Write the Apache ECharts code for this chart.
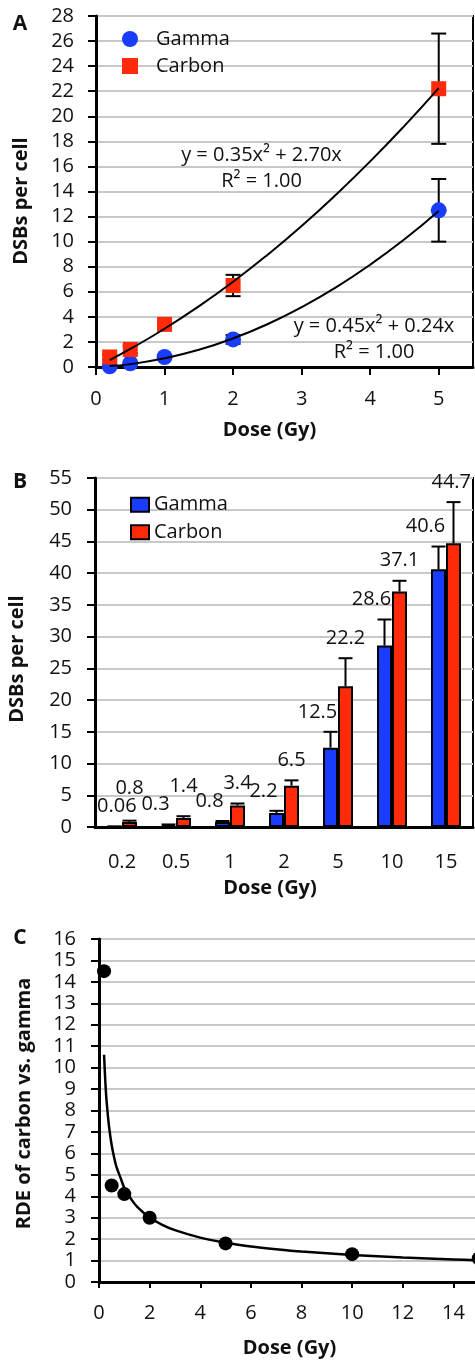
<!DOCTYPE html>
<html><head><meta charset="utf-8">
<script src="https://cdn.jsdelivr.net/npm/echarts@6/dist/echarts.min.js"></script>
<style>html,body{margin:0;padding:0;background:#fff}#c{width:475px;height:1361px}</style>
</head><body><div id="c"></div>
<script>
// ---------- data ----------
const doses = [0.2, 0.5, 1, 2, 5, 10, 15];
const doseLabels = ['0.2', '0.5', '1', '2', '5', '10', '15'];
const gammaMean = [0.06, 0.3, 0.8, 2.2, 12.5, 28.6, 40.6];
const carbonMean = [0.8, 1.4, 3.4, 6.5, 22.2, 37.1, 44.7];
const gammaErr = [0.03, 0.1, 0.15, 0.35, 2.5, 4.1, 3.6];
const carbonErr = [0.2, 0.3, 0.3, 0.85, 4.4, 1.7, 6.5];
const nDosesA = 5;                       // panel A shows doses up to 5 Gy
// trendlines of panel A
const fitXA = [0.2, 0.5, 1, 1.5, 2, 2.5, 3, 3.5, 4, 4.5, 5];
const gammaFit = [0.07, 0.23, 0.69, 1.37, 2.28, 3.41, 4.77, 6.35, 8.16, 10.19, 12.45];
const carbonFit = [0.55, 1.44, 3.05, 4.84, 6.80, 8.94, 11.25, 13.74, 16.40, 19.24, 22.25];
const gammaEq = ['y = 0.45x² + 0.24x', 'R² = 1.00'];
const carbonEq = ['y = 0.35x² + 2.70x', 'R² = 1.00'];
// panel C
const rde = [14.5, 4.5, 4.1, 3.0, 1.8, 1.3, 1.1];
const fitXC = [0.2, 0.25, 0.3, 0.4, 0.5, 0.6, 0.7, 0.85, 1, 1.25, 1.5, 2, 2.5, 3, 4, 5, 6, 7, 8, 10, 12, 14, 15];
const rdeFit = [10.6, 9.35, 8.44, 7.22, 6.39, 5.80, 5.33, 4.86, 4.39, 3.90, 3.52, 3.01, 2.67, 2.42, 2.07, 1.83, 1.66, 1.53, 1.42, 1.26, 1.14, 1.05, 1.01];
// axis ticks
const yTicksA = [0, 28, 2];   // min, max, step
const xTicksA = [0, 5.5, 1];
const yTicksB = [0, 55, 5];
const yTicksC = [0, 16, 1];
const xTicksC = [0, 16, 2];
const panelLetters = ['A', 'B', 'C'];
const legendNames = ['Gamma', 'Carbon'];
const axisTitles = ['Dose (Gy)', 'DSBs per cell', 'RDE of carbon vs. gamma'];

// ---------- style ----------
const FONT = '"Open Sans", sans-serif';
const BLUE = '#1a3cff', RED = '#ff2a0a', GRIDC = '#c8c8c8', INK = '#111';
const BAR_W = 15;
const mctx = document.createElement('canvas').getContext('2d');
function textW(s) { mctx.font = '20px "Open Sans"'; return mctx.measureText(s).width; }

const axisLine = { show: true, onZero: false, lineStyle: { color: '#000', width: 3 } };
const tick = (len) => ({ show: true, inside: false, length: len, lineStyle: { color: '#000', width: 2 } });
const lab = (margin, extra) => Object.assign({ margin: margin, fontSize: 20, fontFamily: FONT, color: INK }, extra || {});
const split = { show: true, lineStyle: { color: GRIDC, width: 2 } };
const nameStyle = (pad) => ({ fontFamily: FONT, fontSize: 20, fontWeight: 'bold', color: INK, lineHeight: 24, padding: pad });

function errA(params, api) {
  const x = api.value(0), y = api.value(1), e = api.value(2);
  const lo = api.coord([x, y - e]), hi = api.coord([x, y + e]);
  const cw = 7.5, st = { stroke: '#000', lineWidth: 2 };
  return { type: 'group', children: [
    { type: 'line', shape: { x1: lo[0], y1: lo[1], x2: hi[0], y2: hi[1] }, style: st },
    { type: 'line', shape: { x1: lo[0] - cw, y1: lo[1], x2: lo[0] + cw, y2: lo[1] }, style: st },
    { type: 'line', shape: { x1: hi[0] - cw, y1: hi[1], x2: hi[0] + cw, y2: hi[1] }, style: st }
  ] };
}
function errB(means, errs, side) {
  return function (params, api) {
    const i = api.value(0);
    const b = api.coord([i, means[i]]), t = api.coord([i, means[i] + errs[i]]);
    const x = b[0] + side * BAR_W / 2, cw = 7, st = { stroke: '#000', lineWidth: 2 };
    return { type: 'group', children: [
      { type: 'line', shape: { x1: x, y1: b[1], x2: x, y2: t[1] }, style: st },
      { type: 'line', shape: { x1: x - cw, y1: t[1], x2: x + cw, y2: t[1] }, style: st }
    ] };
  };
}
function labelsB(params, api) {
  const i = api.value(0), cs = params.coordSys;
  const g = api.coord([i, gammaMean[i] + gammaErr[i]]);
  const c = api.coord([i, carbonMean[i] + carbonErr[i]]);
  const gT = String(gammaMean[i]), cT = String(carbonMean[i]);
  const gw = textW(gT), cwid = textW(cT);
  let gx = g[0] - BAR_W / 2 - 13;
  if (gx - gw / 2 < cs.x + 2) gx = cs.x + 2 + gw / 2;
  const gy = g[1] - 20;
  let cx = c[0] + BAR_W / 2;
  if (cx + cwid / 2 > cs.x + cs.width - 2) cx = cs.x + cs.width - 2 - cwid / 2;
  const cy = Math.min(c[1] - 20, gy - 18);
  const t = (s, x, y) => ({ type: 'text', x: x, y: y, style: { text: s, fill: INK, font: '20px "Open Sans"', align: 'center', verticalAlign: 'middle', textAlign: 'center', textVerticalAlign: 'middle' } });
  return { type: 'group', children: [t(gT, gx, gy), t(cT, cx, cy)] };
}
function gtext(s, x, y, size, bold) {
  return { type: 'text', x: x, y: y, z: 100, style: { text: s, fill: INK, font: (bold ? 'bold ' : '') + size + 'px "Open Sans"', align: 'center', verticalAlign: 'middle', textAlign: 'center', textVerticalAlign: 'middle' } };
}
const gridBase = { show: true, borderColor: '#000', borderWidth: 2, backgroundColor: 'transparent', containLabel: false, outerBoundsMode: 'none' };

const chart = echarts.init(document.getElementById('c'), null, { renderer: 'canvas' });
chart.setOption({
  animation: false,
  backgroundColor: '#fff',
  textStyle: { fontFamily: FONT },
  grid: [
    Object.assign({ left: 96, top: 16, width: 377, height: 351 }, gridBase),
    Object.assign({ left: 95, top: 478, width: 378, height: 349 }, gridBase),
    Object.assign({ left: 99, top: 939, width: 405, height: 343 }, gridBase)
  ],
  xAxis: [
    { type: 'value', gridIndex: 0, min: xTicksA[0], max: xTicksA[1], interval: xTicksA[2],
      axisLine: axisLine, axisTick: tick(8), splitLine: { show: false },
      axisLabel: lab(22, { showMaxLabel: false, formatter: v => Number.isInteger(v) ? String(v) : '' }),
      name: axisTitles[0], nameLocation: 'middle', nameGap: 51, nameTextStyle: nameStyle([0, 30, 0, 0]) },
    { type: 'category', gridIndex: 1, data: doseLabels,
      axisLine: axisLine, axisTick: { show: false }, splitLine: { show: false },
      axisLabel: lab(25),
      name: axisTitles[0], nameLocation: 'middle', nameGap: 49, nameTextStyle: nameStyle([0, 28, 0, 0]) },
    { type: 'value', gridIndex: 2, min: xTicksC[0], max: xTicksC[1], interval: xTicksC[2],
      axisLine: axisLine, axisTick: tick(6), splitLine: { show: false },
      axisLabel: lab(21),
      name: axisTitles[0], nameLocation: 'middle', nameGap: 54, nameTextStyle: nameStyle([0, 24, 0, 0]) }
  ],
  yAxis: [
    { type: 'value', gridIndex: 0, min: yTicksA[0], max: yTicksA[1], interval: yTicksA[2],
      axisLine: axisLine, axisTick: tick(8), splitLine: split, axisLabel: lab(22),
      name: axisTitles[1], nameLocation: 'middle', nameGap: 63, nameTextStyle: nameStyle([0, 19, 0, 0]) },
    { type: 'value', gridIndex: 1, min: yTicksB[0], max: yTicksB[1], interval: yTicksB[2],
      axisLine: axisLine, axisTick: tick(8), splitLine: split, axisLabel: lab(23),
      name: axisTitles[1], nameLocation: 'middle', nameGap: 66, nameTextStyle: nameStyle([0, 13, 0, 0]) },
    { type: 'value', gridIndex: 2, min: yTicksC[0], max: yTicksC[1], interval: yTicksC[2],
      axisLine: axisLine, axisTick: tick(8), splitLine: split, axisLabel: lab(23),
      name: axisTitles[2], nameLocation: 'middle', nameGap: 63, nameTextStyle: nameStyle([0, 0, 0, 14]) }
  ],
  legend: [
    { data: legendNames, orient: 'vertical', left: 117, top: 20.5, itemWidth: 16, itemHeight: 16, itemGap: 0,
      selectedMode: false, textStyle: { fontFamily: FONT, fontSize: 20, color: INK, lineHeight: 27, padding: [0, 0, 0, 13] } },
    { data: legendNames.map(n => n + ' '), orient: 'vertical', left: 125, top: 486, itemWidth: 18, itemHeight: 14, itemGap: 0,
      icon: 'rect', selectedMode: false, formatter: n => n.trim(),
      textStyle: { fontFamily: FONT, fontSize: 20, color: INK, lineHeight: 27.5 } }
  ],
  graphic: [
    gtext(panelLetters[0], 20, 24, 21, true),
    gtext(panelLetters[1], 20, 482, 21, true),
    gtext(panelLetters[2], 20, 938, 21, true),
    gtext(carbonEq[0], 261.5, 155, 20, false),
    gtext(carbonEq[1], 261.5, 181, 20, false),
    gtext(gammaEq[0], 374, 326, 20, false),
    gtext(gammaEq[1], 374, 352, 20, false)
  ],
  series: [
    { type: 'custom', xAxisIndex: 0, yAxisIndex: 0, z: 2, renderItem: errA,
      data: doses.slice(0, nDosesA).map((d, i) => [d, gammaMean[i], gammaErr[i]]) },
    { type: 'custom', xAxisIndex: 0, yAxisIndex: 0, z: 2, renderItem: errA,
      data: doses.slice(0, nDosesA).map((d, i) => [d, carbonMean[i], carbonErr[i]]) },
    { type: 'scatter', name: legendNames[0], xAxisIndex: 0, yAxisIndex: 0, z: 3, symbol: 'circle', symbolSize: 16,
      itemStyle: { color: BLUE, opacity: 1 }, data: doses.slice(0, nDosesA).map((d, i) => [d, gammaMean[i]]) },
    { type: 'scatter', name: legendNames[1], xAxisIndex: 0, yAxisIndex: 0, z: 3, symbol: 'rect', symbolSize: 15,
      itemStyle: { color: RED, opacity: 1 }, data: doses.slice(0, nDosesA).map((d, i) => [d, carbonMean[i]]) },
    { type: 'line', xAxisIndex: 0, yAxisIndex: 0, z: 4, smooth: true, symbol: 'none', silent: true,
      lineStyle: { color: '#000', width: 2 }, data: fitXA.map((x, i) => [x, gammaFit[i]]) },
    { type: 'line', xAxisIndex: 0, yAxisIndex: 0, z: 4, smooth: true, symbol: 'none', silent: true,
      lineStyle: { color: '#000', width: 2 }, data: fitXA.map((x, i) => [x, carbonFit[i]]) },

    { type: 'bar', name: legendNames[0] + ' ', xAxisIndex: 1, yAxisIndex: 1, barWidth: BAR_W, barGap: '0%',
      itemStyle: { color: BLUE, borderColor: '#000', borderWidth: 2 }, data: gammaMean },
    { type: 'bar', name: legendNames[1] + ' ', xAxisIndex: 1, yAxisIndex: 1, barWidth: BAR_W, barGap: '0%',
      itemStyle: { color: RED, borderColor: '#000', borderWidth: 2 }, data: carbonMean },
    { type: 'custom', xAxisIndex: 1, yAxisIndex: 1, z: 5, renderItem: errB(gammaMean, gammaErr, -1),
      data: doses.map((d, i) => [i, gammaMean[i] + gammaErr[i]]) },
    { type: 'custom', xAxisIndex: 1, yAxisIndex: 1, z: 5, renderItem: errB(carbonMean, carbonErr, 1),
      data: doses.map((d, i) => [i, carbonMean[i] + carbonErr[i]]) },
    { type: 'custom', xAxisIndex: 1, yAxisIndex: 1, z: 6, renderItem: labelsB, clip: false,
      data: doses.map((d, i) => [i, carbonMean[i]]) },

    { type: 'line', xAxisIndex: 2, yAxisIndex: 2, z: 3, smooth: 0.3, symbol: 'none', silent: true,
      lineStyle: { color: '#000', width: 2.5 }, data: fitXC.map((x, i) => [x, rdeFit[i]]) },
    { type: 'scatter', xAxisIndex: 2, yAxisIndex: 2, z: 4, symbol: 'circle', symbolSize: 14,
      itemStyle: { color: '#000', opacity: 1 }, data: doses.map((d, i) => [d, rde[i]]) }
  ]
});
</script>
</body></html>
